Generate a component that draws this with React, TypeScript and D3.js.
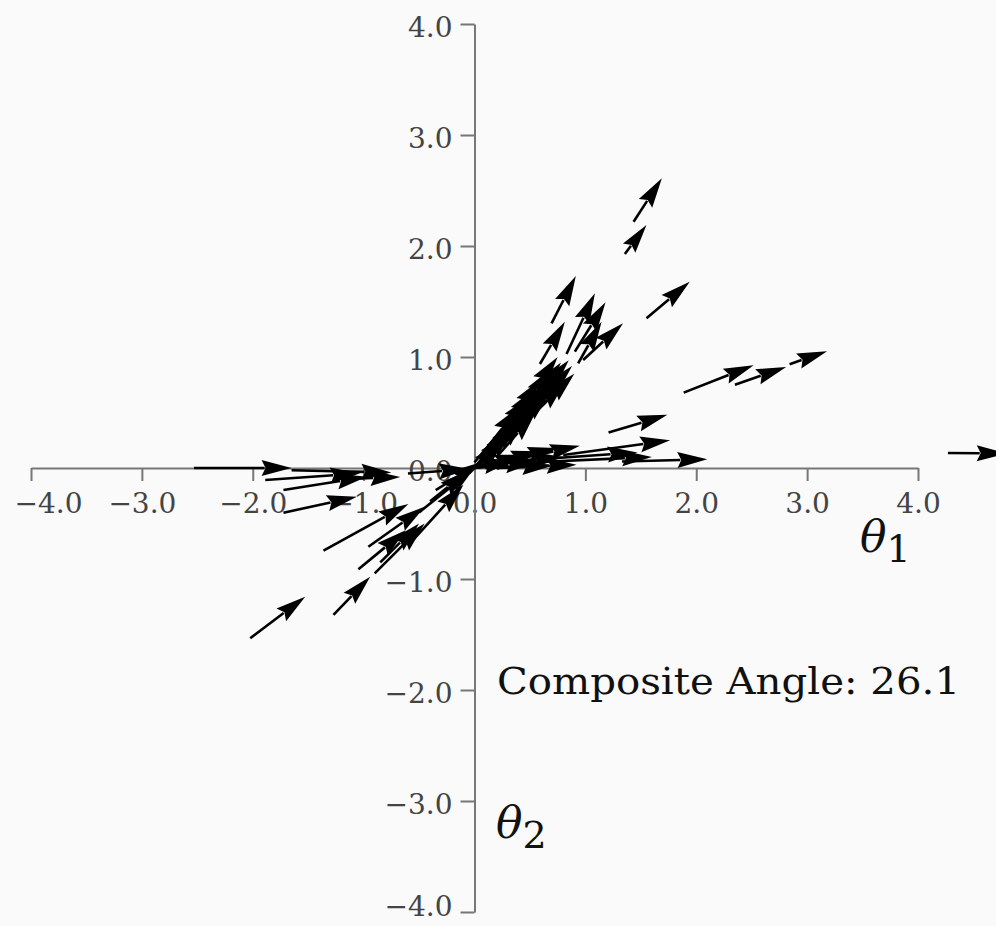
import React, { useEffect, useRef } from "react";
import * as d3 from "d3";

// each arrow: [tailθ1, tailθ2, headθ1, headθ2]
const upperArrows = [
  [1.435, 2.219, 1.69, 2.61],
  [1.356, 1.928, 1.551, 2.189],
  [1.551, 1.349, 1.941, 1.678],
  [0.695, 1.303, 0.914, 1.73],
  [0.59, 0.937, 0.815, 1.318],
  [0.83, 1.027, 1.086, 1.574],
  [0.905, 1.048, 1.182, 1.493],
  [0.935, 0.943, 1.146, 1.318],
  [0.98, 0.973, 1.34, 1.304],
];

const rightArrows = [
  [1.887, 0.679, 2.518, 0.926],
  [2.349, 0.75, 2.811, 0.911],
  [2.842, 0.935, 3.18, 1.052],
  [1.209, 0.319, 1.739, 0.479],
  [0.8, 0.117, 1.764, 0.25],
  [0.3, 0.06, 1.47, 0.14],
  [1.33, 0.058, 2.1, 0.079],
  [4.27, 0.135, 4.8, 0.13],
  [0.0, 0.0, 0.95, 0.2],
  [0.05, 0.02, 0.75, 0.18],
  [0.0, 0.0, 0.6, 0.15],
  [0.1, 0.0, 0.92, 0.03],
  [0.0, 0.0, 0.55, 0.05],
  [0.5, 0.05, 1.6, 0.1],
  [0.0, 0.0, 0.45, 0.12],
  [0.1, 0.03, 0.8, 0.1],
  [0.2, 0.0, 0.7, 0.02],
  [0.0, 0.0, 0.35, 0.07],
];

const wedgeArrows = [
  [-0.05, -0.05, 0.3, 0.3],
  [0.0, 0.0, 0.4, 0.42],
  [0.0, 0.0, 0.5, 0.55],
  [0.05, 0.03, 0.6, 0.65],
  [0.0, 0.0, 0.65, 0.75],
  [0.1, 0.05, 0.72, 0.82],
  [0.0, 0.0, 0.78, 0.9],
  [0.1, 0.1, 0.85, 0.97],
  [0.2, 0.15, 0.9, 0.85],
  [0.0, 0.0, 0.55, 0.72],
  [0.15, 0.2, 0.75, 1.0],
  [0.0, 0.0, 0.25, 0.22],
  [0.05, 0.0, 0.45, 0.45],
  [0.1, 0.05, 0.58, 0.58],
  [0.0, 0.05, 0.5, 0.65],
  [0.2, 0.2, 0.8, 0.85],
  [0.3, 0.3, 0.88, 0.92],
  [0.1, 0.1, 0.68, 0.68],
  [0.25, 0.3, 0.7, 0.9],
  [0.0, 0.0, 0.35, 0.35],
  [0.05, 0.1, 0.4, 0.55],
  [0.15, 0.1, 0.62, 0.7],
  [0.3, 0.25, 0.82, 0.78],
  [0.1, 0.15, 0.6, 0.8],
  [0.2, 0.1, 0.55, 0.5],
  [0.35, 0.4, 0.78, 0.95],
];

const leftArrows = [
  [-2.53, 0.0, -1.65, 0.0],
  [-1.887, -0.108, -1.032, -0.048],
  [-1.723, -0.198, -0.971, -0.078],
  [-1.723, -0.403, -1.061, -0.259],
  [-1.65, -0.02, -0.75, -0.04],
  [-1.2, -0.1, -0.67, -0.08],
  [-0.6, -0.05, -0.05, -0.01],
  [-1.362, -0.745, -0.596, -0.324],
  [-0.957, -0.709, -0.45, -0.35],
  [-1.047, -0.913, -0.62, -0.56],
  [-1.272, -1.324, -0.941, -0.979],
  [-2.023, -1.534, -1.527, -1.159],
  [-0.85, -0.85, -0.5, -0.5],
  [-0.9, -0.95, -0.45, -0.5],
  [-0.6, -0.7, -0.1, -0.15],
  [-0.5, -0.4, 0.0, 0.0],
  [-0.35, -0.2, 0.05, 0.05],
  [-0.4, -0.3, -0.05, -0.02],
];

const tickValues = [-4, -3, -2, -1, 0, 1, 2, 3, 4];
const angleLabel = "Composite Angle: 26.1";

export default function App() {
  const ref = useRef<SVGSVGElement>(null);

  useEffect(() => {
    const svg = d3.select(ref.current);
    svg.selectAll("*").remove();

    const width = 996;
    const height = 926;
    const font = "'DejaVu Serif', serif";

    svg.append("rect").attr("width", width).attr("height", height).attr("fill", "#fafafa");

    const x = d3.scaleLinear().domain([-4, 4]).range([31, 918]);
    const y = d3.scaleLinear().domain([-4, 4]).range([912, 24]);

    const fmt = d3.format(".1f");

    // x axis through origin
    const xAxisG = svg.append("g")
      .attr("transform", `translate(0, ${y(0)})`)
      .call(d3.axisBottom(x).tickValues(tickValues).tickFormat(d => fmt(d as number)).tickSize(13).tickSizeOuter(0).tickPadding(12));

    const yAxisG = svg.append("g")
      .attr("transform", `translate(${x(0)}, 0)`)
      .call(d3.axisLeft(y).tickValues(tickValues).tickFormat(d => fmt(d as number)).tickSize(14).tickSizeOuter(0).tickPadding(8));

    [xAxisG, yAxisG].forEach(g => {
      g.select(".domain").attr("stroke", "#777").attr("stroke-width", 2);
      g.selectAll(".tick line").attr("stroke", "#777").attr("stroke-width", 2);
      g.selectAll(".tick text")
        .attr("fill", "#444")
        .style("font-family", font)
        .style("font-size", "28px");
    });
    yAxisG.selectAll(".tick text").attr("dy", (d: any) => (d === -4 ? "0.12em" : "0.45em"));
    // keep the leftmost label inside the picture
    xAxisG.selectAll(".tick text").filter((d: any) => d === -4).attr("dx", 17);

    // arrows
    const allArrows = [...upperArrows, ...rightArrows, ...wedgeArrows, ...leftArrows];
    const arrowG = svg.append("g");
    const headLen = 30;
    const headHalf = 8;

    allArrows.forEach(([tx, ty, hx, hy]) => {
      const x1 = x(tx), y1 = y(ty), x2 = x(hx), y2 = y(hy);
      const dx = x2 - x1, dy = y2 - y1;
      const len = Math.sqrt(dx * dx + dy * dy);
      if (len === 0) return;
      const ux = dx / len, uy = dy / len;
      const L = Math.min(headLen, len * 0.8);
      const W = headHalf * (L / headLen);
      const bx = x2 - ux * L, by = y2 - uy * L;
      const nx = -uy, ny = ux;

      arrowG.append("line")
        .attr("x1", x1).attr("y1", y1)
        .attr("x2", bx + ux * 3).attr("y2", by + uy * 3)
        .attr("stroke", "#000")
        .attr("stroke-width", 2.6);

      const pts = [
        [x2, y2],
        [bx + nx * W, by + ny * W],
        [bx + ux * 4, by + uy * 4],
        [bx - nx * W, by - ny * W],
      ];
      arrowG.append("polygon")
        .attr("points", pts.map(p => p.join(",")).join(" "))
        .attr("fill", "#000");
    });

    svg.append("text")
      .attr("x", 497)
      .attr("y", 694)
      .attr("fill", "#111")
      .attr("textLength", 463)
      .attr("lengthAdjust", "spacingAndGlyphs")
      .style("font-family", font)
      .style("font-size", "37px")
      .text(angleLabel);

    const t1 = svg.append("text")
      .attr("x", 860)
      .attr("y", 552)
      .attr("fill", "#111")
      .style("font-family", font)
      .style("font-size", "44px");
    t1.append("tspan").style("font-style", "italic").text("θ");
    t1.append("tspan").attr("dy", 10).style("font-size", "38px").text("1");

    const t2 = svg.append("text")
      .attr("x", 496)
      .attr("y", 838)
      .attr("fill", "#111")
      .style("font-family", font)
      .style("font-size", "44px");
    t2.append("tspan").style("font-style", "italic").text("θ");
    t2.append("tspan").attr("dy", 10).style("font-size", "38px").text("2");
  }, []);

  return (
    <div style={{ position: "absolute", left: 0, top: 0 }}>
      <svg ref={ref} width={996} height={926} style={{ display: "block" }} />
    </div>
  );
}
